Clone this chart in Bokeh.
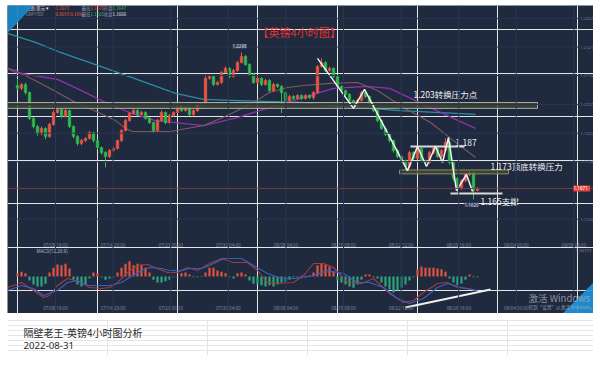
from bokeh.plotting import figure
from bokeh.models import Range1d, FixedTicker, Label, PolyAnnotation, Span, LinearAxis
from bokeh.layouts import column
from bokeh.core.properties import value
from bokeh.embed import file_html
from bokeh.resources import INLINE

# ---------------- data (GBP/USD 4h) ----------------
first_open = 1.2144
closes = [
    1.2131, 1.2149, 1.2112, 1.1993, 1.1956, 1.1924, 1.1947, 1.1910, 1.1965, 1.2020,
    1.2034, 1.2002, 1.2029, 1.1956, 1.1910, 1.1878, 1.1891, 1.1901, 1.1928, 1.1891,
    1.1859, 1.1836, 1.1818, 1.1845, 1.1855, 1.1891, 1.1937, 1.1983, 1.2016, 1.2029,
    1.2011, 1.2020, 1.1993, 1.1974, 1.1937, 1.1983, 1.2020, 1.1974, 1.2006, 1.2020,
    1.2048, 1.2029, 1.2043, 1.2011, 1.2029, 1.2057, 1.2062, 1.2177, 1.2186, 1.2149,
    1.2158, 1.2204, 1.2223, 1.2186, 1.2213, 1.2250, 1.2278, 1.2241, 1.2195, 1.2158,
    1.2177, 1.2149, 1.2167, 1.2121, 1.2149, 1.2140, 1.2112, 1.2075, 1.2094, 1.2085,
    1.2098, 1.2085, 1.2098, 1.2089, 1.2112, 1.2232, 1.2250, 1.2213, 1.2223, 1.2186,
    1.2140, 1.2121, 1.2103, 1.2075, 1.2048, 1.2075, 1.2112, 1.2094, 1.2057, 1.2029,
    1.1983, 1.1947, 1.1919, 1.1891, 1.1845, 1.1818, 1.1799, 1.1772, 1.1836, 1.1809,
    1.1855, 1.1799, 1.1790, 1.1836, 1.1855, 1.1818, 1.1845, 1.1882, 1.1790, 1.1717,
    1.1671, 1.1707, 1.1735, 1.1744, 1.1662, 1.1671,
]
upper_wick_pips = [
    30, 6, 8, 4, 5, 6, 10, 5, 8, 9,
    8, 5, 9, 4, 5, 6, 8, 5, 7, 4,
    5, 4, 6, 6, 8, 5, 6, 8, 7, 9,
    5, 8, 6, 5, 4, 8, 10, 5, 7, 6,
    8, 6, 5, 4, 6, 5, 6, 18, 8, 5,
    8, 7, 9, 5, 8, 7, 18, 6, 5, 6,
    10, 5, 8, 6, 8, 5, 6, 4, 7, 5,
    6, 5, 6, 5, 6, 6, 19, 6, 8, 5,
    6, 5, 4, 6, 5, 8, 6, 7, 4, 5,
    6, 4, 5, 4, 5, 6, 5, 4, 8, 5,
    8, 5, 4, 8, 6, 6, 7, 19, 5, 6,
    5, 6, 8, 9, 5, 6,
]
lower_wick_pips = [
    6, 8, 10, 7, 9, 10, 8, 12, 6, 5,
    6, 8, 5, 7, 9, 10, 8, 6, 5, 9,
    8, 10, 50, 8, 6, 5, 6, 4, 5, 6,
    8, 5, 6, 7, 10, 5, 6, 8, 5, 6,
    5, 6, 5, 7, 8, 6, 10, 5, 6, 8,
    5, 6, 5, 8, 6, 5, 4, 6, 8, 6,
    5, 8, 6, 7, 5, 6, 95, 8, 6, 7,
    5, 8, 6, 7, 10, 6, 5, 7, 6, 8,
    6, 5, 7, 6, 10, 6, 5, 8, 6, 7,
    8, 6, 7, 8, 9, 8, 10, 19, 6, 8,
    5, 8, 9, 6, 8, 6, 7, 8, 10, 12,
    18, 6, 8, 7, 42, 5,
]
macd_hist = [
    0.0008, 0.0012, 0.0008, -0.0010, -0.0020, -0.0025, -0.0025, -0.0018, 0.0010, 0.0022,
    0.0030, 0.0028, 0.0032, 0.0020, -0.0008, -0.0020, -0.0025, -0.0020, -0.0005, 0.0010,
    0.0008, -0.0002, -0.0008, -0.0005, -0.0002, 0.0010, 0.0022, 0.0032, 0.0038, 0.0028,
    0.0032, 0.0030, 0.0022, 0.0010, -0.0008, -0.0015, -0.0015, -0.0012, -0.0008, -0.0002,
    -0.0002, 0.0008, 0.0010, 0.0005, -0.0002, -0.0002, 0.0001, 0.0010, 0.0022, 0.0022,
    0.0015, 0.0012, 0.0008, -0.0002, -0.0005, 0.0008, 0.0010, 0.0005, -0.0010, -0.0018,
    -0.0020, -0.0022, -0.0025, -0.0022, -0.0025, -0.0020, -0.0015, -0.0015, -0.0008, -0.0002,
    -0.0002, 0.0002, 0.0002, 0.0002, 0.0010, 0.0028, 0.0032, 0.0030, 0.0025, 0.0012,
    -0.0010, -0.0015, -0.0020, -0.0025, -0.0028, -0.0020, -0.0008, 0.0005, 0.0005, -0.0002,
    -0.0005, -0.0015, -0.0025, -0.0032, -0.0040, -0.0035, -0.0028, -0.0020, -0.0010, -0.0002,
    0.0018, 0.0025, 0.0022, 0.0022, 0.0022, 0.0020, 0.0018, 0.0012, -0.0005, -0.0015,
    -0.0022, -0.0018, -0.0008, 0.0005, -0.0002, -0.0002,
]
dif_idx = [-2.5, 1, 4, 6.5, 8, 10, 12.5, 16, 18, 21, 23, 25, 27.5, 30, 32.5, 35, 37.5, 40, 42.5, 45,
           48, 51, 54, 57.5, 60, 62.5, 65, 69, 71.5, 74, 76.5, 79, 82.5, 86, 89, 93, 96.5, 99, 101.5, 105,
           107.5, 110, 112.5, 114.5]
dif_val = [-0.00275, -0.0015, -0.0035, -0.00525, -0.00475, -0.00225, -0.0005, -0.0015, -0.00275, -0.003,
           -0.00275, -0.0015, 0.001, 0.00275, 0.003, 0.002, 0.001, 0.001, 0.00225, 0.0015,
           0.00325, 0.0045, 0.0035, 0.0035, 0.0015, -0.0015, -0.00175, -0.0015, 0.00025, 0.00325,
           0.00325, 0.00225, -0.0015, -0.00175, -0.0005, -0.00425, -0.0065, -0.006, -0.004, -0.00175,
           -0.0015, -0.00275, -0.003, -0.0035]
dea_idx = [-2.5, 1, 4, 6.5, 10, 12.5, 15, 17.5, 21, 23, 26, 28, 31, 33, 36, 38, 41, 43, 46, 48,
           51.5, 56, 59, 62.5, 66, 69, 71.5, 74, 77.5, 81.5, 85, 88, 91.5, 95, 98, 101.5, 105, 107.5, 111, 115]
dea_val = [-0.0035, -0.00225, -0.003, -0.00475, -0.0035, -0.0015, -0.001, -0.00225, -0.00225, -0.00225,
           -0.0015, -0.00025, 0.0015, 0.00225, 0.002, 0.0015, 0.0015, 0.002, 0.002, 0.00275,
           0.0045, 0.0045, 0.00275, 0.00075, -0.0005, -0.0005, -0.00025, 0.00025, 0.0015, 0.00075,
           -0.0015, -0.0015, -0.00275, -0.0055, -0.00675, -0.0055, -0.00275, -0.00175, -0.00275, -0.0035]
macd_trend_idx = [97, 118.25]
macd_trend_val = [-0.00775, -0.00325]

ma_long_idx = [-2.5, 4.5, 10.75, 20.75, 30.75, 39.5, 46.5, 55, 70.75, 80.75, 95.75, 114.5]
ma_long = [1.2384, 1.2342, 1.2296, 1.2232, 1.2167, 1.2108, 1.2080, 1.2075, 1.2066, 1.2048, 1.2029, 1.2011]
ma_mid_idx = [-2.5, -0.5, 10, 16, 22, 28, 34.5, 39.5, 46.5, 55, 63, 70.75, 79, 87.5, 93, 101, 109, 114.5]
ma_mid = [1.2223, 1.2204, 1.2172, 1.2121, 1.2066, 1.2020, 1.1983, 1.1974, 1.1960, 1.1997, 1.2043, 1.2085,
          1.2131, 1.2140, 1.2131, 1.2062, 1.1993, 1.1947]
ma_short_idx = [-2.5, -0.5, 7.75, 14.5, 20.25, 24.5, 27, 28.75, 38.25, 46.5, 50.75, 55, 59, 63, 67.5,
                71.5, 78.25, 85, 90, 96.5, 103.25, 109, 114.5]
ma_short = [1.2223, 1.2213, 1.2135, 1.2066, 1.2020, 1.1983, 1.1947, 1.1933, 1.1933, 1.1960, 1.1993, 1.2029,
            1.2066, 1.2112, 1.2135, 1.2144, 1.2154, 1.2158, 1.2121, 1.2043, 1.1974, 1.1891, 1.1813]

zig_idx = [75, 84, 86.75, 97.5, 100, 102.25, 104.5, 106.25, 107.75, 109.75, 112.25, 113.75]
zig_price = [1.2269, 1.2039, 1.2126, 1.1753, 1.1864, 1.1772, 1.1864, 1.1790, 1.1905, 1.1661, 1.1735, 1.1657]

price_ticks = [1.2452, 1.2321, 1.2190, 1.2057, 1.1925, 1.1794, 1.1530]
price_tick_labels = ["1.2452", "1.2321", "1.2190", "1.2057", "1.1925", "1.1794", "1.1530"]
time_pos = [9.5, 23.9, 38.3, 52.7, 67.1, 81.5, 95.9, 110.3, 124.7, 139.1]
time_labels = ["07/08 16:00", "07/14 20:00", "07/23 00:00", "07/30 04:00", "08/08 04:00",
               "08/15 08:00", "08/22 12:00", "08/29 16:00", "09/04 00:00", "09/09 08:00"]
time_label_price = 1.1413
macd_time_label_val = -0.00775
current_price = 1.1671
high_tag = (55.5, 1.2324, "1.2298")
low_tag = (113.5, 1.1597, "1.1620")

zone_1203 = dict(left=-2.5, right=130, top=1.2066, bottom=1.2039)
zone_1173 = dict(left=95.5, right=122.75, top=1.1756, bottom=1.1738)
line_1187 = dict(x=[98.25, 111.75], y=[1.1864, 1.1864])
line_1165 = dict(x=[108.25, 121.25], y=[1.1648, 1.1648])

notes_text = ["1.203转换压力点", "1.187", "1.173顶底转换压力", "1.165支撑"]
notes_x = [99, 109.5, 118.25, 115.75]
notes_y = [1.2103, 1.1882, 1.1772, 1.1611]

header = [
    ("英镑/美元 ▾", 2, 1.2499, "#e6e9ee"), ("1.1671", 9.5, 1.2499, "#f0503f"),
    ("最高", 16, 1.2499, "#8a93a5"), ("1.1676", 18.25, 1.2499, "#f0503f"),
    ("开盘", 21.5, 1.2499, "#8a93a5"), ("1.1647", 23.75, 1.2499, "#38c060"),
    ("GBPUSD", 2, 1.2471, "#8a93a5"), ("0.0019  0.16%", 9.5, 1.2471, "#f0503f"),
    ("最低", 16, 1.2471, "#8a93a5"), ("1.1661", 18.25, 1.2471, "#38c060"),
    ("收盘", 21.5, 1.2471, "#8a93a5"), ("1.1666", 23.75, 1.2471, "#e6e9ee"),
]

# ---------------- derived ----------------
n = len(closes)
idx = list(range(n))
opens = [first_open] + closes[:-1]
body_top = [max(o, c) for o, c in zip(opens, closes)]
body_bot = [min(o, c) for o, c in zip(opens, closes)]
highs = [t + u * 0.0001 for t, u in zip(body_top, upper_wick_pips)]
lows = [b - l * 0.0001 for b, l in zip(body_bot, lower_wick_pips)]
UP, DN = "#ee5643", "#2fbd4c"
ccol = [UP if c >= o else DN for o, c in zip(opens, closes)]
hcol = ["#e0533f" if h >= 0 else "#2fa47c" for h in macd_hist]

BG = "#1f2a3f"
GRID = "#2a3650"
CJK = "Noto Sans CJK SC"

p = figure(width=586, height=308, x_range=Range1d(-2.5, 144), y_range=Range1d(1.1096, 1.2512),
           output_backend="svg", toolbar_location=None, x_axis_location=None, y_axis_location=None,
           background_fill_color=BG, border_fill_color=BG, outline_line_color=None,
           min_border_left=0, min_border_top=0, min_border_bottom=0, min_border_right=0)
p.extra_y_ranges = {"macd": Range1d(-0.00925, 0.06775)}

# grid lines
for t in time_pos:
    p.add_layout(Span(location=t, dimension="height", line_color=GRID, line_width=1))
for t in price_ticks:
    p.add_layout(Span(location=t, dimension="width", line_color=GRID, line_width=1))

# price axis drawn inside the dark panel
ax = LinearAxis(fixed_location=138.7, ticker=FixedTicker(ticks=price_ticks),
                major_label_overrides={t: s for t, s in zip(price_ticks, price_tick_labels)})
ax.major_label_text_font_size = "4.2px"
ax.major_label_text_color = "#7f899c"
ax.major_label_text_font = "Noto Sans"
ax.axis_line_color = None
ax.major_tick_line_color = None
ax.minor_tick_line_color = None
ax.major_label_standoff = 2
p.add_layout(ax, "right")

# moving averages
p.line(ma_long_idx, ma_long, line_color="#2a8fa3", line_width=1.3)
p.line(ma_mid_idx, ma_mid, line_color="#9330ad", line_width=1.3)
p.line(ma_short_idx, ma_short, line_color="#80595f", line_width=1.1)

# current price line
p.add_layout(Span(location=current_price, dimension="width", line_color="#7c3a4a", line_width=1))

# candles
p.segment(x0=idx, y0=lows, x1=idx, y1=highs, line_color=ccol, line_width=1)
p.vbar(x=idx, width=0.62, top=body_top, bottom=body_bot, fill_color=ccol, line_color=ccol, line_width=0.6)

# zones
p.quad(left=[zone_1203["left"]], right=[zone_1203["right"]], top=[zone_1203["top"]], bottom=[zone_1203["bottom"]],
       fill_color="#40452f", fill_alpha=0.8, line_color="#a9ada0", line_width=1)
p.quad(left=[zone_1173["left"]], right=[zone_1173["right"]], top=[zone_1173["top"]], bottom=[zone_1173["bottom"]],
       fill_color="#454a30", fill_alpha=0.8, line_color="#8a8e62", line_width=1)
p.line(line_1187["x"], line_1187["y"], line_color="#d9d9d9", line_width=2)
p.line(line_1165["x"], line_1165["y"], line_color="#d9d9d9", line_width=2)
p.line(zig_idx, zig_price, line_color="#f0f0f0", line_width=1.5)

# MACD
p.vbar(x=idx, width=0.55, top=macd_hist, bottom=0, fill_color=hcol, line_color=None, y_range_name="macd")
p.line(dif_idx, dif_val, line_color="#a8383a", line_width=1.1, y_range_name="macd")
p.line(dea_idx, dea_val, line_color="#3a5fc4", line_width=1.1, y_range_name="macd")
p.line(macd_trend_idx, macd_trend_val, line_color="#f0f0f0", line_width=1.8, y_range_name="macd")

# time labels
p.text(x=time_pos, y=[time_label_price] * len(time_pos), text=time_labels, text_font=value("Noto Sans"),
       text_font_size="4.5px", text_color="#7f899c", text_align="center", text_baseline="middle")
p.text(x=time_pos[:-1], y=[macd_time_label_val] * (len(time_pos) - 1), text=time_labels[:-1],
       text_font=value("Noto Sans"), text_font_size="4.5px", text_color="#7f899c", text_align="center",
       text_baseline="middle", y_range_name="macd")

# annotations text
p.text(x=notes_x, y=notes_y, text=notes_text, text_font=value(CJK), text_font_size="8.5px",
       text_color="#eef0f3", text_align="left", text_baseline="middle")
p.add_layout(Label(x=70.4, y=1.2388, text="【英镑4小时图】", text_font=CJK, text_font_size="11px",
                   text_color="#e8322e", text_align="center", text_baseline="middle"))
for tx, ty, tt in (high_tag, low_tag):
    p.add_layout(Label(x=tx, y=ty, text=tt, text_font="Noto Sans", text_font_size="4.5px",
                       text_color="#d0d6e0", text_align="center", text_baseline="middle",
                       background_fill_color="#3a4862"))
for tt, tx, ty, tc in header:
    p.add_layout(Label(x=tx, y=ty, text=tt, text_font=CJK, text_font_size="4.5px", text_color=tc,
                       text_align="left", text_baseline="middle"))

p.add_layout(Label(x=4.75, y=0.0065, text="MACD(12,26,9)", text_font="Noto Sans", text_font_size="4.5px",
                   text_color="#aab4c4", text_baseline="middle", y_range_name="macd"))
p.add_layout(Label(x=139.6, y=0.0065, text="0.00773", text_font="Noto Sans", text_font_size="4.2px",
                   text_color="#7f899c", text_baseline="middle", y_range_name="macd"))
p.add_layout(Label(x=139.0, y=current_price, text=" 1.1671 ", text_font="Noto Sans", text_font_size="4.6px",
                   text_color="white", text_baseline="middle", background_fill_color="#e8453c"))

# corner triangles
p.add_layout(PolyAnnotation(xs=[-2.5, 4, -2.5], ys=[1.2512, 1.2512, 1.2384], fill_color="#1a86c7",
                            fill_alpha=0.95, line_color=None))
p.add_layout(PolyAnnotation(xs=[144, 144, 136.25], ys=[1.1238, 1.1096, 1.1096], fill_color="#1f95d8",
                            fill_alpha=0.9, line_color=None))
p.add_layout(Label(x=127.75, y=1.1169, text="激活 Windows", text_font=CJK, text_font_size="9.5px",
                   text_color="#a4abb6", text_baseline="middle", text_alpha=0.85))
p.add_layout(Label(x=127.75, y=1.1128, text="转到“设置”以激活 Windows。", text_font=CJK, text_font_size="4.6px",
                   text_color="#a4abb6", text_baseline="middle", text_alpha=0.85))

# cyan strip
bar = figure(width=586, height=6, output_backend="svg", toolbar_location=None,
             x_axis_location=None, y_axis_location=None, background_fill_color="#0aaef0",
             border_fill_color="#0aaef0", outline_line_color=None,
             min_border_left=0, min_border_right=0, min_border_bottom=0, min_border_top=0)

# caption panel
q = figure(width=586, height=36, x_range=Range1d(0, 586), y_range=Range1d(0, 36),
           output_backend="svg", toolbar_location=None, x_axis_location=None, y_axis_location=None,
           background_fill_color="white", border_fill_color="white", outline_line_color=None,
           min_border_left=0, min_border_right=0, min_border_bottom=0, min_border_top=0)
q.add_layout(Label(x=16, y=23, text="隔壁老王-英镑4小时图分析", text_font=CJK, text_font_size="10px",
                   text_color="#2a2a2a", text_baseline="middle"))
q.add_layout(Label(x=16, y=10, text="2022-08-31", text_font="Noto Sans", text_font_size="9.7px",
                   text_color="#2a2a2a", text_baseline="middle"))

layout = column(p, bar, q, spacing=0, margin=(5, 0, 0, 7))

open("out.html", "w").write(file_html(layout, INLINE))
